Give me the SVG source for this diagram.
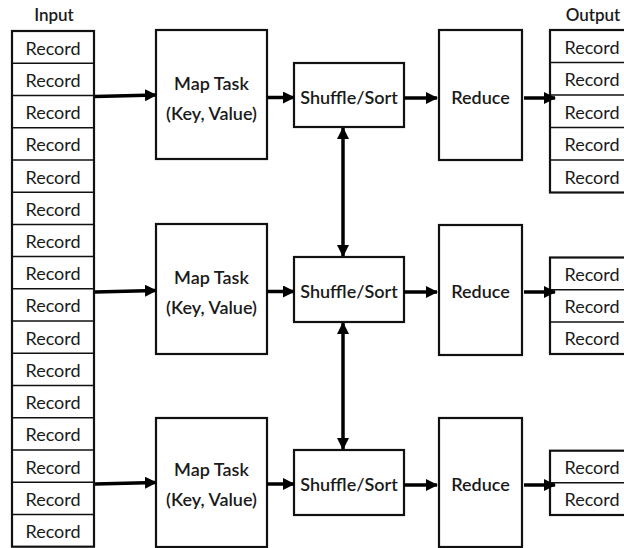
<svg xmlns="http://www.w3.org/2000/svg" width="624" height="548" viewBox="0 0 624 548">
<style>
  .box { fill: #fff; stroke: #111; stroke-width: 2.2; }
  .cell { fill: #fff; stroke: #111; stroke-width: 1.5; }
  .rec { font-family: "Lato", "Liberation Sans", sans-serif; font-size: 18px; fill: #1a1a1a; text-anchor: middle; dominant-baseline: central; }
  .lbl { font-family: "Lato", "Liberation Sans", sans-serif; font-size: 18px; font-weight: 600; fill: #1a1a1a; text-anchor: middle; dominant-baseline: central; }
  .hdr { font-family: "Lato", "Liberation Sans", sans-serif; font-size: 17px; font-weight: 600; fill: #1a1a1a; text-anchor: middle; }
  .arr { stroke: #000; stroke-width: 3.5; fill: none; }
</style>
<defs>
  <marker id="ah" viewBox="0 0 12 12" refX="11" refY="6" markerWidth="12" markerHeight="12" markerUnits="userSpaceOnUse" orient="auto-start-reverse">
    <path d="M0,0 L12,6 L0,12 Z" fill="#000"/>
  </marker>
</defs>
<rect width="624" height="548" fill="#fff"/>

<g id="input">
  <text class="hdr" x="54" y="21">Input</text>
  <rect class="box" x="12" y="31" width="82" height="515.7"/>
  <g class="cells">
    <line class="cell" x1="12" y1="63.2" x2="94" y2="63.2"/>
    <line class="cell" x1="12" y1="95.5" x2="94" y2="95.5"/>
    <line class="cell" x1="12" y1="127.7" x2="94" y2="127.7"/>
    <line class="cell" x1="12" y1="159.9" x2="94" y2="159.9"/>
    <line class="cell" x1="12" y1="192.2" x2="94" y2="192.2"/>
    <line class="cell" x1="12" y1="224.4" x2="94" y2="224.4"/>
    <line class="cell" x1="12" y1="256.6" x2="94" y2="256.6"/>
    <line class="cell" x1="12" y1="288.8" x2="94" y2="288.8"/>
    <line class="cell" x1="12" y1="321.1" x2="94" y2="321.1"/>
    <line class="cell" x1="12" y1="353.3" x2="94" y2="353.3"/>
    <line class="cell" x1="12" y1="385.5" x2="94" y2="385.5"/>
    <line class="cell" x1="12" y1="417.8" x2="94" y2="417.8"/>
    <line class="cell" x1="12" y1="450" x2="94" y2="450"/>
    <line class="cell" x1="12" y1="482.2" x2="94" y2="482.2"/>
    <line class="cell" x1="12" y1="514.5" x2="94" y2="514.5"/>
  </g>
  <text class="rec" x="53" y="47.6">Record</text>
  <text class="rec" x="53" y="79.8">Record</text>
  <text class="rec" x="53" y="112.1">Record</text>
  <text class="rec" x="53" y="144.3">Record</text>
  <text class="rec" x="53" y="176.5">Record</text>
  <text class="rec" x="53" y="208.8">Record</text>
  <text class="rec" x="53" y="241">Record</text>
  <text class="rec" x="53" y="273.2">Record</text>
  <text class="rec" x="53" y="305.4">Record</text>
  <text class="rec" x="53" y="337.7">Record</text>
  <text class="rec" x="53" y="369.9">Record</text>
  <text class="rec" x="53" y="402.1">Record</text>
  <text class="rec" x="53" y="434.4">Record</text>
  <text class="rec" x="53" y="466.6">Record</text>
  <text class="rec" x="53" y="498.8">Record</text>
  <text class="rec" x="53" y="531">Record</text>
</g>

<g id="map1">
  <rect class="box" x="156" y="30" width="111" height="129"/>
  <text class="lbl" x="211.5" y="83">Map Task</text>
  <text class="lbl" x="211.5" y="113">(Key, Value)</text>
</g>
<g id="map2">
  <rect class="box" x="156" y="224" width="111" height="130"/>
  <text class="lbl" x="211.5" y="277">Map Task</text>
  <text class="lbl" x="211.5" y="307">(Key, Value)</text>
</g>
<g id="map3">
  <rect class="box" x="156" y="418" width="111" height="129"/>
  <text class="lbl" x="211.5" y="469">Map Task</text>
  <text class="lbl" x="211.5" y="499">(Key, Value)</text>
</g>

<g id="shuffle1">
  <rect class="box" x="294" y="63" width="110" height="64"/>
  <text class="lbl" x="349" y="97">Shuffle/Sort</text>
</g>
<g id="shuffle2">
  <rect class="box" x="294" y="257" width="110" height="65"/>
  <text class="lbl" x="349" y="291">Shuffle/Sort</text>
</g>
<g id="shuffle3">
  <rect class="box" x="294" y="450" width="110" height="65"/>
  <text class="lbl" x="349" y="484">Shuffle/Sort</text>
</g>

<g id="reduce1">
  <rect class="box" x="439" y="30" width="83" height="130"/>
  <text class="lbl" x="480.5" y="97">Reduce</text>
</g>
<g id="reduce2">
  <rect class="box" x="439" y="225" width="83" height="130"/>
  <text class="lbl" x="480.5" y="291">Reduce</text>
</g>
<g id="reduce3">
  <rect class="box" x="439" y="418" width="83" height="129"/>
  <text class="lbl" x="480.5" y="484">Reduce</text>
</g>

<g id="output1">
  <text class="hdr" x="593" y="21">Output</text>
  <rect class="box" x="550" y="30" width="90" height="162.5"/>
  <line class="cell" x1="550" y1="62.5" x2="640" y2="62.5"/>
  <line class="cell" x1="550" y1="95" x2="640" y2="95"/>
  <line class="cell" x1="550" y1="127.5" x2="640" y2="127.5"/>
  <line class="cell" x1="550" y1="160" x2="640" y2="160"/>
  <text class="rec" x="592" y="46.5">Record</text>
  <text class="rec" x="592" y="79">Record</text>
  <text class="rec" x="592" y="111.5">Record</text>
  <text class="rec" x="592" y="144">Record</text>
  <text class="rec" x="592" y="176.5">Record</text>
</g>
<g id="output2">
  <rect class="box" x="550" y="257.5" width="90" height="96.5"/>
  <line class="cell" x1="550" y1="289.7" x2="640" y2="289.7"/>
  <line class="cell" x1="550" y1="321.9" x2="640" y2="321.9"/>
  <text class="rec" x="592" y="273.6">Record</text>
  <text class="rec" x="592" y="305.8">Record</text>
  <text class="rec" x="592" y="338">Record</text>
</g>
<g id="output3">
  <rect class="box" x="550" y="450.7" width="90" height="64.3"/>
  <line class="cell" x1="550" y1="482.8" x2="640" y2="482.8"/>
  <text class="rec" x="592" y="466.8">Record</text>
  <text class="rec" x="592" y="499">Record</text>
</g>

<g id="connectors">
  <line class="arr" x1="95" y1="96.5" x2="156" y2="95" marker-end="url(#ah)"/>
  <line class="arr" x1="95" y1="292" x2="156" y2="290.5" marker-end="url(#ah)"/>
  <line class="arr" x1="95" y1="484" x2="156" y2="482.5" marker-end="url(#ah)"/>

  <line class="arr" x1="267" y1="97.5" x2="294" y2="97.5" marker-end="url(#ah)"/>
  <line class="arr" x1="267" y1="291.5" x2="294" y2="291.5" marker-end="url(#ah)"/>
  <line class="arr" x1="267" y1="484" x2="294" y2="484" marker-end="url(#ah)"/>

  <line class="arr" x1="404" y1="98" x2="437" y2="98" marker-end="url(#ah)"/>
  <line class="arr" x1="404" y1="292" x2="437" y2="292" marker-end="url(#ah)"/>
  <line class="arr" x1="404" y1="485" x2="437" y2="485" marker-end="url(#ah)"/>

  <line class="arr" x1="524" y1="98" x2="555" y2="98" marker-end="url(#ah)"/>
  <line class="arr" x1="524" y1="292" x2="555" y2="292" marker-end="url(#ah)"/>
  <line class="arr" x1="524" y1="485" x2="555" y2="485" marker-end="url(#ah)"/>

  <line class="arr" x1="343" y1="128" x2="343" y2="256" marker-start="url(#ah)" marker-end="url(#ah)"/>
  <line class="arr" x1="343" y1="323" x2="343" y2="449" marker-start="url(#ah)" marker-end="url(#ah)"/>
</g>
</svg>
